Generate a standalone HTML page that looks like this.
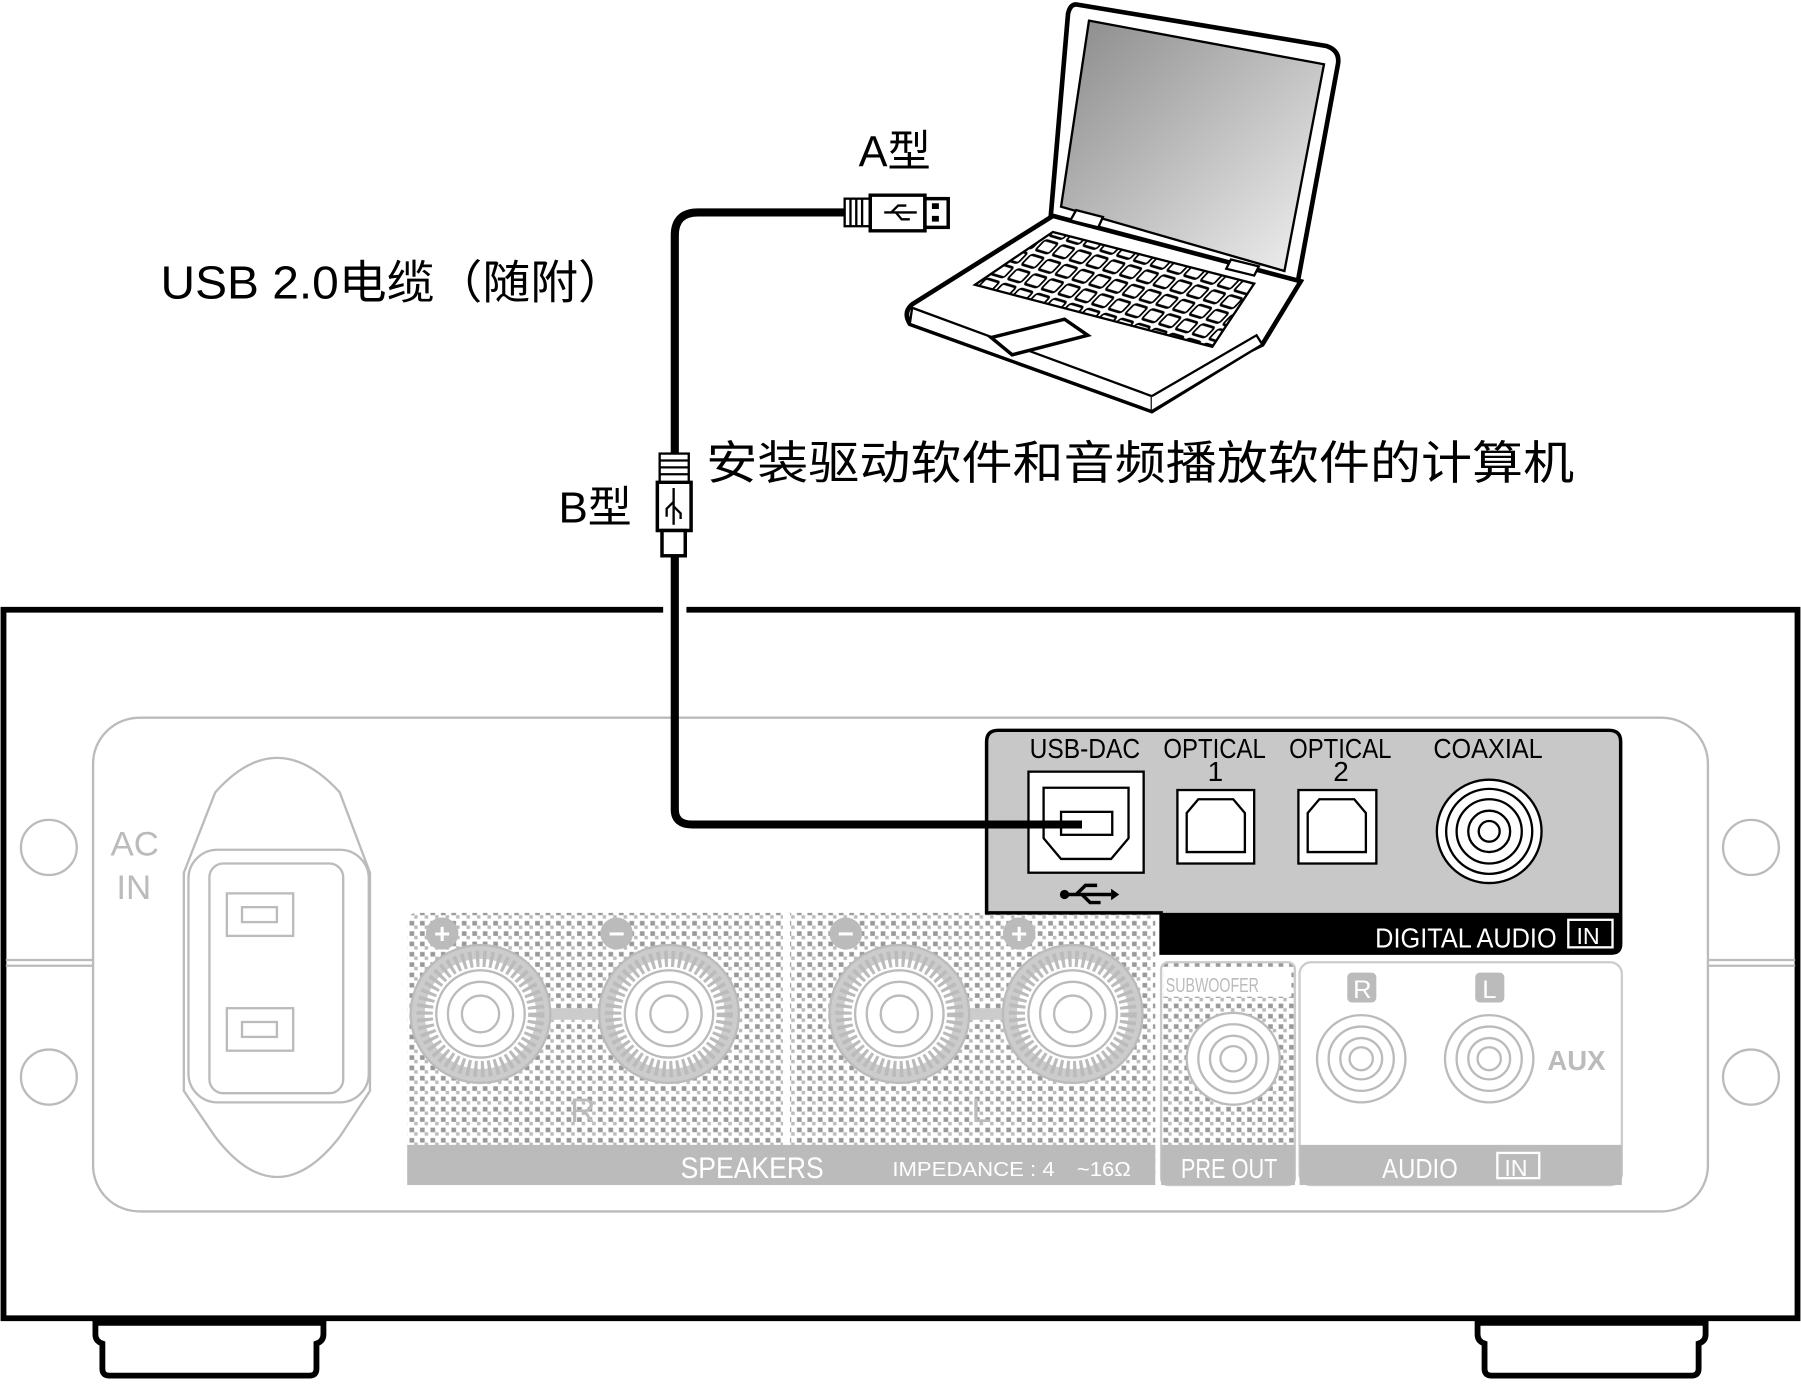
<!DOCTYPE html>
<html><head><meta charset="utf-8"><style>
html,body{margin:0;padding:0;background:#fff;overflow:hidden}
svg{display:block}
</style></head><body>
<svg width="1801" height="1386" viewBox="0 0 1548 1207" preserveAspectRatio="none" xmlns="http://www.w3.org/2000/svg" font-family="'Liberation Sans','Noto Sans CJK SC',sans-serif">
<defs>
<pattern id="dots" width="9" height="9" patternUnits="userSpaceOnUse">
<rect width="9" height="9" fill="#fff"/><rect x="1" y="1" width="4" height="4" fill="#999"/><rect x="5" y="5" width="3" height="3" fill="#bbb"/>
</pattern>
<linearGradient id="scr" x1="0" y1="0" x2="1" y2="1"><stop offset="0" stop-color="#8a8a8a"/><stop offset="1" stop-color="#f2f2f2"/></linearGradient>
<pattern id="keys" width="18" height="13" patternUnits="userSpaceOnUse" patternTransform="skewX(-35) rotate(14)">
<rect width="18" height="13" fill="#fff"/><rect x="2" y="2" width="14" height="9" rx="2" fill="#fff" stroke="#000" stroke-width="2"/>
</pattern>
</defs>

<path d="M570 531 H3 V1148 H1545 V531 H590" fill="none" stroke="#000" stroke-width="5"/>
<path d="M82 1152 h196 v10 q0 6 -6 8 v22 q0 6 -6 6 h-172 q-6 0 -6 -6 v-22 q-6 -2 -6 -8z" fill="#fff" stroke="#000" stroke-width="5"/>
<path d="M1270 1152 h196 v10 q0 6 -6 8 v22 q0 6 -6 6 h-172 q-6 0 -6 -6 v-22 q-6 -2 -6 -8z" fill="#fff" stroke="#000" stroke-width="5"/>
<g stroke="#bbb" stroke-width="2" fill="none">
<line x1="5" y1="836" x2="80" y2="836"/><line x1="5" y1="841" x2="80" y2="841"/>
<line x1="1468" y1="836" x2="1543" y2="836"/><line x1="1468" y1="841" x2="1543" y2="841"/>
<rect x="80" y="625" width="1388" height="430" rx="40"/>
<circle cx="42" cy="738" r="24"/><circle cx="42" cy="938" r="24"/>
<circle cx="1505" cy="738" r="24"/><circle cx="1505" cy="938" r="24"/>
<path d="M185 690 Q238 630 292 690 L318 760 V950 L292 990 Q238 1060 185 990 L158 950 V760Z"/>
<rect x="162" y="740" width="155" height="220" rx="25"/>
<rect x="180" y="752" width="115" height="200" rx="12"/>
<rect x="195" y="778" width="57" height="37"/><rect x="208" y="790" width="30" height="13"/>
<rect x="195" y="878" width="57" height="37"/><rect x="208" y="890" width="30" height="13"/>
</g>
<text x="95" y="745" font-size="30" fill="#bbb">AC</text>
<text x="100" y="783" font-size="30" fill="#bbb">IN</text>

<rect x="350" y="795" width="643" height="237" rx="8" fill="url(#dots)"/>
<line x1="676" y1="795" x2="676" y2="998" stroke="#fff" stroke-width="6"/>
<rect x="350" y="997" width="643" height="35" fill="#bbb"/>
<text x="585" y="1026" font-size="26" fill="#fff" textLength="123" lengthAdjust="spacingAndGlyphs">SPEAKERS</text>
<text x="767" y="1024" font-size="18" fill="#fff" textLength="205" lengthAdjust="spacingAndGlyphs">IMPEDANCE : 4　~16Ω</text>
<g fill="#bbb"><circle cx="380" cy="813" r="14"/><circle cx="530" cy="813" r="14"/><circle cx="727" cy="813" r="14"/><circle cx="876" cy="813" r="14"/></g>
<g fill="#fff" font-size="24" font-weight="bold" text-anchor="middle"><text x="380" y="821">+</text><text x="530" y="821">−</text><text x="727" y="821">−</text><text x="876" y="821">+</text></g>
<line x1="413" y1="883" x2="575" y2="883" stroke="#ccc" stroke-width="10"/>
<line x1="773" y1="883" x2="922" y2="883" stroke="#ccc" stroke-width="10"/>
<g stroke="#bbb" stroke-width="2">
<g transform="translate(413,883)"><circle r="60" fill="#ccc"/><circle r="48" fill="#fff" stroke-dasharray="3 3" stroke-width="14"/><circle r="38" fill="#fff"/><circle r="28" fill="#fff"/><circle r="16" fill="#fff"/></g>
<g transform="translate(575,883)"><circle r="60" fill="#ccc"/><circle r="48" fill="#fff" stroke-dasharray="3 3" stroke-width="14"/><circle r="38" fill="#fff"/><circle r="28" fill="#fff"/><circle r="16" fill="#fff"/></g>
<g transform="translate(773,883)"><circle r="60" fill="#ccc"/><circle r="48" fill="#fff" stroke-dasharray="3 3" stroke-width="14"/><circle r="38" fill="#fff"/><circle r="28" fill="#fff"/><circle r="16" fill="#fff"/></g>
<g transform="translate(922,883)"><circle r="60" fill="#ccc"/><circle r="48" fill="#fff" stroke-dasharray="3 3" stroke-width="14"/><circle r="38" fill="#fff"/><circle r="28" fill="#fff"/><circle r="16" fill="#fff"/></g>
</g>
<text x="490" y="977" font-size="30" fill="#bbb">R</text>
<text x="835" y="977" font-size="30" fill="#bbb">L</text>

<rect x="998" y="838" width="115" height="194" rx="6" fill="url(#dots)" stroke="#ccc" stroke-width="2"/>
<rect x="1000" y="842" width="110" height="26" fill="#fff"/>
<text x="1002" y="864" font-size="18" fill="#bbb" textLength="80" lengthAdjust="spacingAndGlyphs">SUBWOOFER</text>
<g stroke="#bbb" stroke-width="2" fill="#fff"><circle cx="1060" cy="922" r="40"/><circle cx="1060" cy="922" r="30"/><circle cx="1060" cy="922" r="20"/><circle cx="1060" cy="922" r="11"/></g>
<rect x="998" y="997" width="115" height="35" fill="#bbb"/>
<text x="1015" y="1026" font-size="24" fill="#fff" textLength="83" lengthAdjust="spacingAndGlyphs">PRE OUT</text>

<rect x="1117" y="838" width="277" height="194" rx="10" fill="#fff" stroke="#ccc" stroke-width="2"/>
<rect x="1117" y="997" width="277" height="35" fill="#bbb"/>
<text x="1188" y="1026" font-size="24" fill="#fff" textLength="65" lengthAdjust="spacingAndGlyphs">AUDIO</text>
<rect x="1287" y="1004" width="36" height="22" fill="none" stroke="#fff" stroke-width="2"/>
<text x="1293" y="1024" font-size="20" fill="#fff">IN</text>
<rect x="1158" y="847" width="25" height="26" rx="4" fill="#bbb"/><text x="1163" y="869" font-size="22" fill="#fff">R</text>
<rect x="1268" y="847" width="25" height="26" rx="4" fill="#bbb"/><text x="1274" y="869" font-size="22" fill="#fff">L</text>
<g stroke="#bbb" stroke-width="2" fill="#fff">
<circle cx="1170" cy="922" r="38"/><circle cx="1170" cy="922" r="28"/><circle cx="1170" cy="922" r="18"/><circle cx="1170" cy="922" r="10"/>
<circle cx="1280" cy="922" r="38"/><circle cx="1280" cy="922" r="28"/><circle cx="1280" cy="922" r="18"/><circle cx="1280" cy="922" r="10"/>
</g>
<text x="1330" y="932" font-size="24" font-weight="bold" fill="#bbb" textLength="50" lengthAdjust="spacingAndGlyphs">AUX</text>

<path d="M848 795 V646 q0 -10 10 -10 H1383 q10 0 10 10 V822 q0 8 -8 8 H998 V795Z" fill="#c8c8c8" stroke="#000" stroke-width="3"/>
<path d="M998 795 H1393 V822 q0 8 -8 8 H998Z" fill="#000"/>
<text x="1182" y="825" font-size="24" fill="#fff" textLength="156" lengthAdjust="spacingAndGlyphs">DIGITAL  AUDIO</text>
<rect x="1348" y="801" width="38" height="24" fill="none" stroke="#fff" stroke-width="2"/>
<text x="1355" y="822" font-size="20" fill="#fff">IN</text>
<g font-size="24" fill="#000">
<text x="885" y="660" textLength="95" lengthAdjust="spacingAndGlyphs">USB-DAC</text>
<text x="1000" y="660" textLength="88" lengthAdjust="spacingAndGlyphs">OPTICAL</text><text x="1038" y="680">1</text>
<text x="1108" y="660" textLength="88" lengthAdjust="spacingAndGlyphs">OPTICAL</text><text x="1146" y="680">2</text>
<text x="1232" y="660" textLength="94" lengthAdjust="spacingAndGlyphs">COAXIAL</text>
</g>
<rect x="884" y="672" width="99" height="88" fill="#fff" stroke="#000" stroke-width="2"/>
<path d="M897 686 H970 V730 L955 748 H912 L897 730Z" fill="#fff" stroke="#000" stroke-width="2"/>
<rect x="912" y="707" width="44" height="20" fill="#fff" stroke="#000" stroke-width="2"/>
<rect x="1012" y="688" width="66" height="64" fill="#fff" stroke="#000" stroke-width="2"/>
<path d="M1030 696 H1060 L1070 708 V742 H1020 V708Z" fill="#fff" stroke="#000" stroke-width="2"/>
<rect x="1116" y="688" width="67" height="64" fill="#fff" stroke="#000" stroke-width="2"/>
<path d="M1134 696 H1164 L1174 708 V742 H1124 V708Z" fill="#fff" stroke="#000" stroke-width="2"/>
<g fill="none" stroke="#000" stroke-width="2"><circle cx="1280" cy="724" r="45" fill="#fff"/><circle cx="1280" cy="724" r="37"/><circle cx="1280" cy="724" r="28"/><circle cx="1280" cy="724" r="18"/><circle cx="1280" cy="724" r="9"/></g>
<g stroke="#000" stroke-width="3" fill="none"><line x1="915" y1="779" x2="955" y2="779"/><path d="M925 779 L933 771 H943"/><path d="M930 779 L937 786 H946"/></g>
<circle cx="915" cy="779" r="4"/><path d="M955 774 L962 779 L955 784Z"/>

<path d="M726 185 H600 Q580 185 580 205 V395 M580 485 V705 Q580 718 595 718 H930" fill="none" stroke="#000" stroke-width="7"/>
<rect x="726" y="173" width="22" height="24" fill="#fff" stroke="#000" stroke-width="2"/>
<g stroke="#000" stroke-width="2"><line x1="731" y1="173" x2="731" y2="197"/><line x1="736" y1="173" x2="736" y2="197"/><line x1="741" y1="173" x2="741" y2="197"/></g>
<path d="M748 170 H795 V201 H748Z" fill="#fff" stroke="#000" stroke-width="3"/>
<rect x="795" y="173" width="20" height="25" fill="#fff" stroke="#000" stroke-width="3"/>
<rect x="801" y="177" width="6" height="5" fill="#000"/><rect x="801" y="188" width="6" height="5" fill="#000"/>
<g stroke="#000" stroke-width="2" fill="none"><line x1="760" y1="185" x2="788" y2="185"/><path d="M766 185 L772 179 H779"/><path d="M770 185 L775 191 H782"/></g>
<rect x="567" y="395" width="25" height="25" fill="#fff" stroke="#000" stroke-width="2"/>
<g stroke="#000" stroke-width="2"><line x1="567" y1="401" x2="592" y2="401"/><line x1="567" y1="407" x2="592" y2="407"/><line x1="567" y1="413" x2="592" y2="413"/></g>
<path d="M565 420 H594 V462 H565Z" fill="#fff" stroke="#000" stroke-width="3"/>
<rect x="569" y="462" width="20" height="22" fill="#fff" stroke="#000" stroke-width="3"/>
<g stroke="#000" stroke-width="2" fill="none"><line x1="579" y1="425" x2="579" y2="457"/><path d="M579 437 L573 443 V450"/><path d="M579 441 L585 447 V452"/></g>

<path d="M926 4 L1140 40 Q1152 44 1150 56 L1115 248 L903 190 L918 12 Q920 3 926 4Z" fill="#fff" stroke="#000" stroke-width="4"/>
<path d="M936 18 L1138 56 L1104 236 L912 180Z" fill="url(#scr)" stroke="#000" stroke-width="2"/>
<path d="M905 188 L1118 245 L1085 300 L1075 305 L990 358 L782 282 Q776 272 784 265Z" fill="#fff" stroke="#000" stroke-width="4"/>
<path d="M784 268 L782 282 L990 358 L990 345Z" fill="#fff" stroke="#000" stroke-width="2"/>
<path d="M990 345 L1080 292 L1085 300 L990 358" fill="#fff" stroke="#000" stroke-width="2"/>
<path d="M905 202 L1078 247 L1042 302 L838 248Z" fill="url(#keys)" stroke="#000" stroke-width="2"/>
<path d="M852 294 L915 278 L935 292 L870 309Z" fill="#fff" stroke="#000" stroke-width="3"/>
<path d="M925 183 L948 189 L944 198 L920 192Z" fill="#fff" stroke="#000" stroke-width="2"/>
<path d="M1058 226 L1082 232 L1078 240 L1054 234Z" fill="#fff" stroke="#000" stroke-width="2"/>

<text x="738" y="145" font-size="38" fill="#000" textLength="62" lengthAdjust="spacingAndGlyphs">A型</text>
<text x="138" y="260" font-size="40" fill="#000" textLength="400" lengthAdjust="spacingAndGlyphs">USB 2.0电缆（随附）</text>
<text x="480" y="455" font-size="38" fill="#000" textLength="63" lengthAdjust="spacingAndGlyphs">B型</text>
<text x="607" y="417" font-size="40" fill="#000" textLength="746" lengthAdjust="spacingAndGlyphs">安装驱动软件和音频播放软件的计算机</text>
</svg>
</body></html>
